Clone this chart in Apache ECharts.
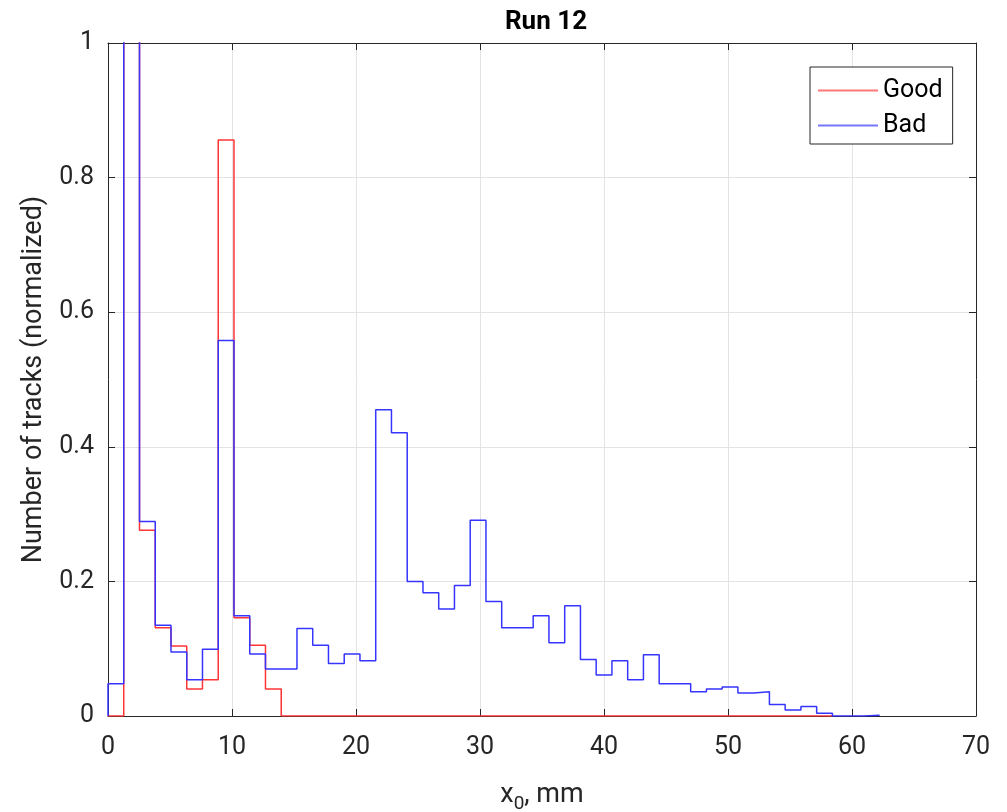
<!DOCTYPE html>
<html>
<head>
<meta charset="utf-8">
<script src="https://cdn.jsdelivr.net/npm/echarts@6/dist/echarts.min.js"></script>
<style>
html,body{margin:0;padding:0;background:#fff;}
#chart{width:1007px;height:812px;}
</style>
</head>
<body>
<div id="chart"></div>
<script>
// Histogram bin width (mm); bin k spans [k*binWidth, (k+1)*binWidth]
const binWidth = 1.27;
// "Good" tracks, normalized counts per bin
const goodValues = [0, 1.5, 0.276, 0.131, 0.104, 0.040, 0.054, 0.856, 0.146, 0.105, 0.040,
  0,0,0,0,0,0,0,0,0,0,0,0,0,0,0,0,0,0,0,0,0,0,0,0,0,0,0,0,0,0,0,0,0,0,0];
// "Bad" tracks, normalized counts per bin
const badValues = [0.048, 1.5, 0.289, 0.135, 0.095, 0.054, 0.099, 0.558, 0.149, 0.092, 0.070,
  0.070, 0.130, 0.105, 0.078, 0.092, 0.082, 0.455, 0.421, 0.200, 0.183,
  0.159, 0.194, 0.291, 0.170, 0.131, 0.131, 0.149, 0.109, 0.164, 0.084,
  0.061, 0.082, 0.054, 0.091, 0.048, 0.048, 0.036, 0.040, 0.043, 0.034,
  0.036, 0.017, 0.009, 0.014, 0.004, 0, 0, 0.001];
const seriesNames = ['Good', 'Bad'];
const xTicks = [0, 10, 20, 30, 40, 50, 60, 70];
const yTicks = [0, 0.2, 0.4, 0.6, 0.8, 1];

function stairs(vals) {
  const pts = [[0, 0]];
  vals.forEach((v, k) => {
    pts.push([k * binWidth, v]);
    pts.push([(k + 1) * binWidth, v]);
  });
  pts.push([vals.length * binWidth, 0]);
  return pts;
}

const font = 'Roboto, "Noto Sans", sans-serif';
const axisCol = '#262626';
const chart = echarts.init(document.getElementById('chart'), null, {renderer: 'canvas'});
const gridBox = {left: 108, right: 31, top: 43, bottom: 96, containLabel: false, outerBoundsMode: 'none'};
chart.setOption({
  backgroundColor: '#fff',
  animation: false,
  title: {
    text: 'Run 12', left: 541, top: 4, textAlign: 'center',
    textStyle: {fontFamily: font, fontSize: 26, fontWeight: 'bold', color: '#000'}
  },
  legend: {
    orient: 'vertical', left: 810, top: 67,
    data: [
      {name: seriesNames[0], itemStyle: {color: '#ff7777'}},
      {name: seriesNames[1], itemStyle: {color: '#7777ff'}}
    ],
    icon: 'rect', itemWidth: 60, itemHeight: 2, itemGap: 10,
    padding: [11, 10, 6, 8],
    borderColor: axisCol, borderWidth: 1, backgroundColor: '#fff',
    textStyle: {fontFamily: font, fontSize: 25, color: '#000', lineHeight: 25, padding: [0,0,0,0]}
  },
  grid: gridBox,
  xAxis: [{
    type: 'value', min: 0, max: 70, interval: 10,
    name: 'x{sub|0}, mm', nameLocation: 'middle', nameGap: 61,
    nameTextStyle: {fontFamily: font, fontSize: 27, color: axisCol,
      rich: {sub: {fontFamily: font, fontSize: 19, color: axisCol, verticalAlign: 'bottom', padding: [18, 0, 0, 0]}}},
    axisLine: {show: true, onZero: false, lineStyle: {color: axisCol, width: 1}},
    axisTick: {show: true, inside: true, length: 7, lineStyle: {color: axisCol}},
    axisLabel: {fontFamily: font, fontSize: 25, color: axisCol, margin: 19,
      formatter: v => xTicks.includes(v) ? String(v) : ''},
    splitLine: {show: true, lineStyle: {color: '#e3e3e3', width: 1}}
  }, {
    type: 'value', min: 0, max: 70, interval: 10, position: 'top',
    axisLine: {show: true, onZero: false, lineStyle: {color: axisCol, width: 1}},
    axisTick: {show: true, inside: true, length: 7, lineStyle: {color: axisCol}},
    axisLabel: {show: false}, splitLine: {show: false}
  }],
  yAxis: [{
    type: 'value', min: 0, max: 1, interval: 0.2,
    name: 'Number of tracks (normalized)', nameLocation: 'middle', nameGap: 60,
    nameTextStyle: {fontFamily: font, fontSize: 27, color: axisCol},
    axisLine: {show: true, onZero: false, lineStyle: {color: axisCol, width: 1}},
    axisTick: {show: true, inside: true, length: 7, lineStyle: {color: axisCol}},
    axisLabel: {fontFamily: font, fontSize: 25, color: axisCol, margin: 14,
      formatter: v => { const t = yTicks.find(y => Math.abs(y - v) < 1e-9); return t === undefined ? '' : String(t); }},
    splitLine: {show: true, lineStyle: {color: '#e3e3e3', width: 1}}
  }, {
    type: 'value', min: 0, max: 1, interval: 0.2, position: 'right',
    axisLine: {show: true, onZero: false, lineStyle: {color: axisCol, width: 1}},
    axisTick: {show: true, inside: true, length: 7, lineStyle: {color: axisCol}},
    axisLabel: {show: false}, splitLine: {show: false}
  }],
  series: [{
    name: seriesNames[0], type: 'line', data: stairs(goodValues),
    showSymbol: false, symbol: 'none', clip: true, z: 3,
    lineStyle: {color: '#ff3535', width: 1.5}, itemStyle: {color: '#ff7777'}
  }, {
    name: seriesNames[1], type: 'line', data: stairs(badValues),
    showSymbol: false, symbol: 'none', clip: true, z: 4,
    lineStyle: {color: '#3535ff', width: 1.5}, itemStyle: {color: '#7777ff'}
  }]
});
</script>
</body>
</html>
